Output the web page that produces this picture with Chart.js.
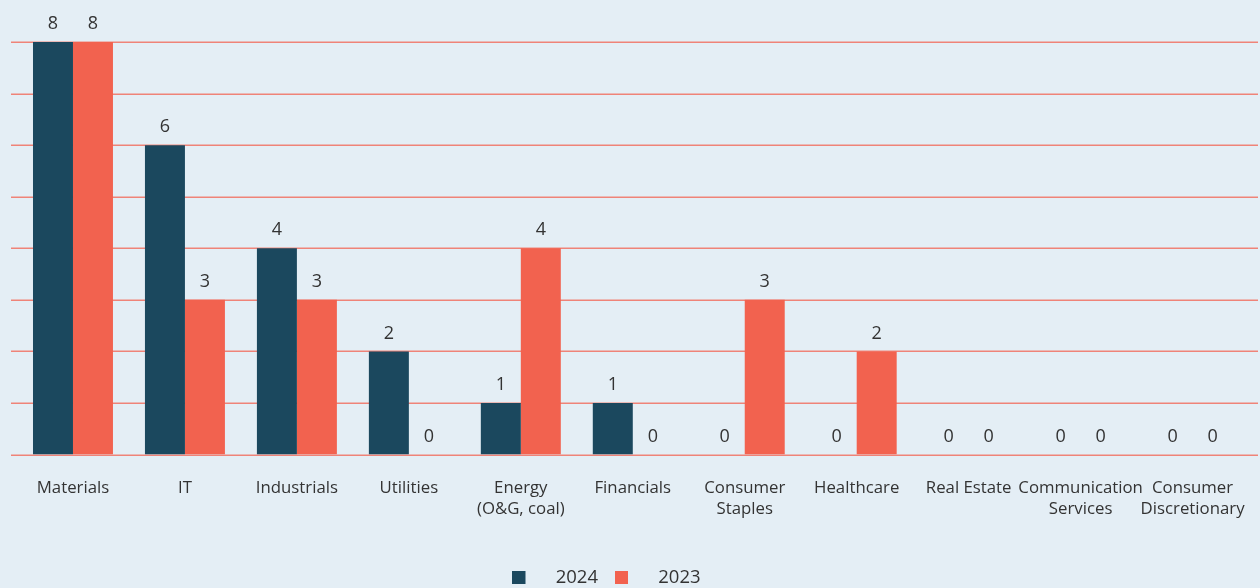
<!DOCTYPE html>
<html>
<head>
<meta charset="utf-8">
<script src="https://cdn.jsdelivr.net/npm/chart.js@4"></script>
<style>
  html, body { margin: 0; padding: 0; background: #e4eef5; }
  #wrap { width: 1260px; height: 588px; }
</style>
</head>
<body>
<div id="wrap"><canvas id="c" width="1260" height="588"></canvas></div>
<script>
// Sector categories (multi-line labels as arrays)
const categories = [
  'Materials', 'IT', 'Industrials', 'Utilities', ['Energy', '(O&G, coal)'],
  'Financials', ['Consumer', 'Staples'], 'Healthcare', 'Real Estate',
  ['Communication', 'Services'], ['Consumer', 'Discretionary']
];
const values2024 = [8, 6, 4, 2, 1, 1, 0, 0, 0, 0, 0];
const values2023 = [8, 3, 3, 0, 4, 0, 3, 2, 0, 0, 0];
const gridValues = [0, 1, 2, 3, 4, 5, 6, 7, 8];

const COLOR_2024 = '#1b485e';
const COLOR_2023 = '#f2624f';
const GRID_COLOR = '#ef8378';
const TEXT_COLOR = '#333333';
const FONT = "'Open Sans', 'Noto Sans', sans-serif";

// Legend marker: a small square on the left of a wider transparent box
function legendMarker(color) {
  const cv = document.createElement('canvas');
  cv.width = 34; cv.height = 13;
  const g = cv.getContext('2d');
  g.fillStyle = color;
  g.fillRect(0, 0, 13, 13);
  return cv;
}

// Horizontal grid lines spanning slightly beyond the category band
const gridPlugin = {
  id: 'wideGrid',
  beforeDatasetsDraw(chart) {
    const { ctx, scales: { y } } = chart;
    ctx.save();
    ctx.strokeStyle = GRID_COLOR;
    ctx.lineWidth = 1.5;
    gridValues.forEach(v => {
      const py = Math.round(y.getPixelForValue(v)) + 0.25;
      ctx.beginPath();
      ctx.moveTo(11, py);
      ctx.lineTo(1258, py);
      ctx.stroke();
    });
    ctx.restore();
  }
};

// Value labels above each bar
const valueLabels = {
  id: 'valueLabels',
  afterDatasetsDraw(chart) {
    const { ctx } = chart;
    ctx.save();
    ctx.font = '18px ' + FONT;
    ctx.fillStyle = TEXT_COLOR;
    ctx.textAlign = 'center';
    ctx.textBaseline = 'middle';
    chart.data.datasets.forEach((ds, i) => {
      chart.getDatasetMeta(i).data.forEach((bar, j) => {
        ctx.fillText(String(ds.data[j]), bar.x, bar.y - 18);
      });
    });
    ctx.restore();
  }
};

// Nudge the legend block a little left and down
const legendShift = {
  id: 'legendShift',
  afterLayout(chart) {
    const lg = chart.legend;
    if (!lg) return;
    lg.left -= 27; lg.right -= 27;
    lg.top += 9; lg.bottom += 9;
  }
};

new Chart(document.getElementById('c'), {
  type: 'bar',
  data: {
    labels: categories,
    datasets: [
      { label: '2024', data: values2024, backgroundColor: COLOR_2024, pointStyle: legendMarker(COLOR_2024) },
      { label: '2023', data: values2023, backgroundColor: COLOR_2023, pointStyle: legendMarker(COLOR_2023) }
    ]
  },
  options: {
    responsive: false,
    animation: false,
    devicePixelRatio: 1,
    layout: { padding: { top: 42, left: 17, right: 10, bottom: 0 } },
    datasets: { bar: { categoryPercentage: 80 / 112, barPercentage: 1 } },
    scales: {
      x: {
        grid: { display: false },
        border: { display: false },
        ticks: {
          color: TEXT_COLOR,
          font: { family: FONT, size: 16.8, lineHeight: 1.25 },
          padding: 15,
          maxRotation: 0,
          autoSkip: false
        },
        afterFit(scale) { scale.height = 88; }
      },
      y: {
        display: false,
        min: 0,
        max: 8
      }
    },
    plugins: {
      legend: {
        position: 'bottom',
        labels: {
          usePointStyle: true,
          pointStyleWidth: 34,
          boxHeight: 13,
          padding: 17,
          color: TEXT_COLOR,
          font: { family: FONT, size: 18.5 }
        }
      },
      tooltip: { enabled: false }
    }
  },
  plugins: [gridPlugin, valueLabels, legendShift]
});
</script>
</body>
</html>
